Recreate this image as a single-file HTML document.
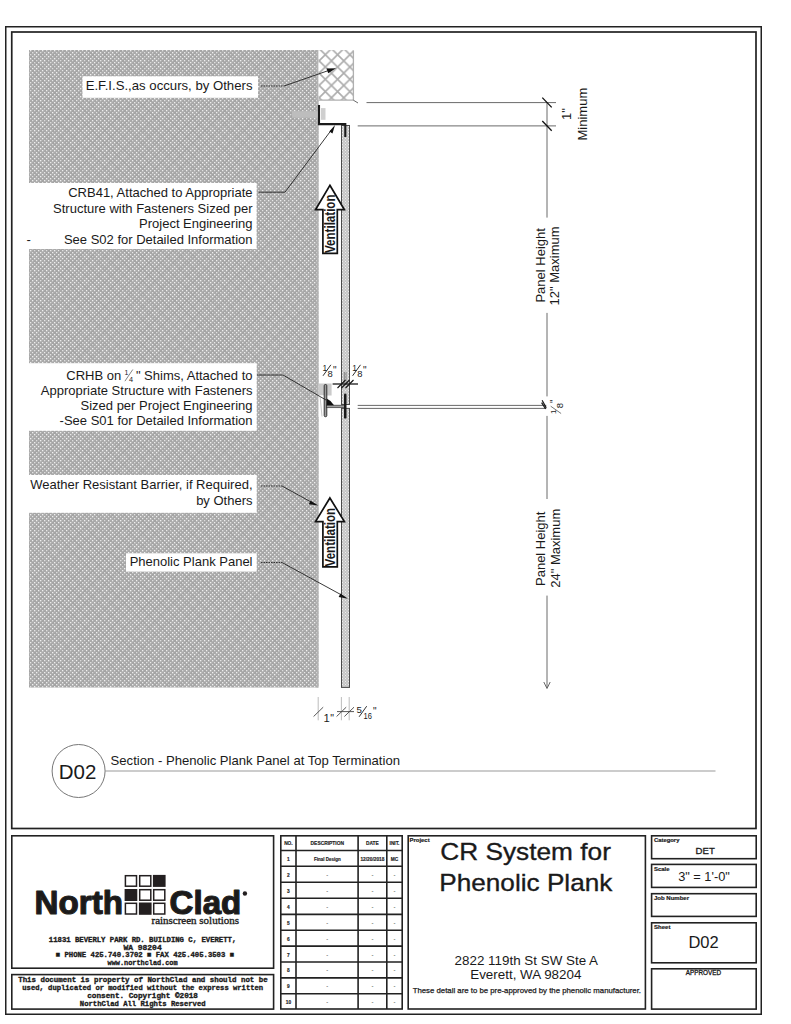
<!DOCTYPE html>
<html><head><meta charset="utf-8"><title>D02 Section - Phenolic Plank Panel at Top Termination</title>
<style>
html,body{margin:0;padding:0;background:#fff;width:791px;height:1024px;overflow:hidden}
svg{display:block}
text{font-family:"Liberation Sans",sans-serif;fill:#1a1a1a}
.m text{font-family:"Liberation Mono",monospace;font-weight:bold}
</style></head><body>
<svg width="791" height="1024" viewBox="0 0 791 1024">
<defs>
<pattern id="dots" x="0" y="0" width="4" height="4" patternUnits="userSpaceOnUse">
<rect width="4" height="4" fill="#ababab"/>
<rect x="0" y="0" width="1.3" height="1.3" fill="#f0f0f0"/>
<rect x="2" y="2" width="1.3" height="1.3" fill="#f0f0f0"/>
</pattern>
<pattern id="xh" x="319.15" y="48.55" width="12.3" height="12.3" patternUnits="userSpaceOnUse">
<path d="M0 0L12.3 12.3M12.3 0L0 12.3" stroke="#acacac" stroke-width="1.6"/>
</pattern>
<pattern id="moire" x="23" y="48.55" width="12.6" height="12.6" patternUnits="userSpaceOnUse">
<path d="M0 0L12.6 12.6M12.6 0L0 12.6" stroke="#8a8a8a" stroke-opacity="0.22" stroke-width="2"/>
</pattern>
<pattern id="pan" x="0" y="0" width="3" height="3" patternUnits="userSpaceOnUse">
<rect width="3" height="3" fill="#c4c4c4"/>
<rect x="0" y="0" width="1" height="1" fill="#eee"/>
<rect x="1.5" y="1.5" width="1" height="1" fill="#eee"/>
</pattern>
</defs>

<!-- frames -->
<rect x="5.75" y="26.75" width="755.5" height="987.5" fill="none" stroke="#222" stroke-width="1.5"/>
<rect x="11.75" y="32" width="744.25" height="796.5" fill="none" stroke="#222" stroke-width="1.7"/>

<!-- main hatch -->
<rect x="29" y="50" width="289.5" height="637.5" fill="url(#dots)"/>
<rect x="29" y="50" width="289.5" height="637.5" fill="url(#moire)"/>
<rect x="316.6" y="50" width="1.9" height="637.5" fill="#b3b3b3"/>
<!-- EFIS -->
<rect x="318.5" y="50" width="35" height="50" fill="#fff"/>
<rect x="318.5" y="50" width="35" height="50" fill="url(#xh)"/>
<path d="M353.4 50.5V100.2H318.5" fill="none" stroke="#b0b0b0" stroke-width="1.3"/>

<!-- label boxes -->
<g fill="#fff">
<rect x="82.5" y="76.3" width="175.5" height="21.5"/>
<rect x="29" y="183" width="227.6" height="66"/>
<rect x="29" y="363.2" width="227.7" height="67.6"/>
<rect x="29" y="475" width="227.7" height="37.8"/>
<rect x="126" y="553.3" width="130.7" height="18.3"/>
</g>
<g font-size="13" text-anchor="end">
<text x="252.5" y="90.1" textLength="166.8" lengthAdjust="spacingAndGlyphs">E.F.I.S.,as occurs, by Others</text>
<text x="252.5" y="197">CRB41, Attached to Appropriate</text>
<text x="252.5" y="212.5">Structure with Fasteners Sized per</text>
<text x="252.5" y="228">Project Engineering</text>
<text x="252.5" y="243.6">See S02 for Detailed Information</text>
<text x="121.2" y="380.2">CRHB on</text>
<text x="252.5" y="380.2">" Shims, Attached to</text>
<text x="124.6" y="375.1" font-size="7" text-anchor="start">1</text>
<text x="129" y="381.7" font-size="7.3" text-anchor="start">4</text>
<text x="252.5" y="395">Appropriate Structure with Fasteners</text>
<text x="252.5" y="410">Sized per Project Engineering</text>
<text x="252.5" y="425.3">-See S01 for Detailed Information</text>
<text x="252.5" y="489.4">Weather Resistant Barrier, if Required,</text>
<text x="252.5" y="505">by Others</text>
<text x="252.5" y="566.4">Phenolic Plank Panel</text>
</g>
<text x="26.5" y="243.6" font-size="13">-</text>
<path d="M124.9 381.2L132.8 369.5" stroke="#666" stroke-width="0.8"/>

<!-- fastener in wall (light band) -->
<rect x="292" y="111.2" width="26.5" height="6.5" fill="#bdbdbd"/>
<rect x="321" y="108.1" width="4.5" height="11.7" fill="#cfcfcf"/>
<!-- panels -->
<rect x="341.5" y="125.5" width="8" height="279" fill="url(#pan)" stroke="#4a4a4a" stroke-width="1"/>
<rect x="341.5" y="408.4" width="8" height="279" fill="url(#pan)" stroke="#4a4a4a" stroke-width="1"/>
<!-- top bracket CRB41 -->
<path d="M319 105.1V124.1H345.3V137" fill="none" stroke="#1a1a1a" stroke-width="2.1"/>

<!-- CRHB bracket -->
<rect x="318.6" y="383.5" width="13" height="12" fill="#cacaca"/>
<rect x="318.6" y="395.5" width="5.5" height="21.5" fill="#fff"/>
<path d="M320 396L322 416.5" stroke="#bbb" stroke-width="0.8"/>
<rect x="324.2" y="384.5" width="2.6" height="32.2" rx="1.2" fill="#9a9a9a" stroke="#222" stroke-width="0.9"/>
<rect x="326.6" y="405.2" width="19" height="2.5" fill="#a0a0a0" stroke="#333" stroke-width="0.7"/>
<path d="M326.6 398.6Q331 400.5 334 405.2H326.6Z" fill="#111"/>
<rect x="344" y="393.6" width="2.5" height="25" rx="1.2" fill="#1a1a1a"/>

<!-- leaders -->
<g fill="none" stroke="#222" stroke-width="0.9">
<path d="M261 86H284" stroke-dasharray="1.6 0.9" stroke="#333" stroke-width="1.1"/>
<path d="M284 86L330 70"/>
<path d="M258.7 192.2H285L331.5 129.8"/>
<path d="M257 375H283L320.5 396.8L326 400"/>
<path d="M261 486H282" stroke-dasharray="1.6 0.9" stroke="#333" stroke-width="1.1"/>
<path d="M282 486L312 502.5"/>
<path d="M261 562.5H282" stroke-dasharray="1.6 0.9" stroke="#333" stroke-width="1.1"/>
<path d="M282 562.5L342.5 595.5"/>
</g>
<g fill="#111">
<path d="M336 68.2L326.6 68.4L328.2 73.2Z"/>
<path d="M335 125.1L329.3 131.4L332.5 133.6Z"/>
<path d="M318.3 505.6L310.6 500.8L308.8 504.2Z"/>
<path d="M348 598.8L340.5 593.6L338.6 597Z"/>
</g>

<!-- dimension lines right -->
<g stroke="#6a6a6a" stroke-width="1" fill="none">
<path d="M366.5 102.6H556"/>
<path d="M357.7 125.9H556"/>
<path d="M547 102V217.6M547 312.9V396.4M547 415.9V499M547 595.6V687"/>
<path d="M357.7 405.4H546.3M357.7 408.4H546.3"/>
<path d="M353.4 100.2L358 103"/>
</g>
<path d="M543.8 682L547 688.5L550.2 682" fill="none" stroke="#555" stroke-width="0.9"/>
<g stroke="#111" stroke-width="1.3">
<path d="M542.3 97.6L551.7 107.4M542.3 121L551.7 130.8"/>
</g>
<g font-size="13">
<text transform="translate(570.5,120) rotate(-90)">1"</text>
<text transform="translate(587.3,140.5) rotate(-90)">Minimum</text>
<text transform="translate(544.7,302.6) rotate(-90)">Panel Height</text>
<text transform="translate(559,305.5) rotate(-90)">12" Maximum</text>
<text transform="translate(544.7,586) rotate(-90)">Panel Height</text>
<text transform="translate(559.5,587.8) rotate(-90)">24" Maximum</text>
</g>

<!-- CRHB small dims -->
<path d="M332.6 384H358" stroke="#2a2a2a" stroke-width="1.4"/>
<path d="M344.3 372V384M346 372V384" stroke="#555" stroke-width="0.6"/>
<g stroke="#111" stroke-width="1.1">
<path d="M337.5 388L345.5 380M341.5 388L349.5 380M345.5 388L353.5 380"/>
</g>
<g font-size="8.4">
<text x="322.5" y="370.5">1</text><text x="327.4" y="377.3" font-size="9.4">8</text><text x="333" y="373.8" font-size="10">"</text>
<text x="352.3" y="370.5">1</text><text x="357.3" y="377.3" font-size="9.4">8</text><text x="362.9" y="373.8" font-size="10">"</text>
</g>
<path d="M323 375.8L330.9 364.8M352.6 375.8L360.5 364.8" stroke="#1a1a1a" stroke-width="0.9"/>
<text transform="translate(555.8,414) rotate(-90)" font-size="8">1</text>
<text transform="translate(562.9,408.3) rotate(-90)" font-size="9.5">8</text>
<text transform="translate(558.4,403) rotate(-90)" font-size="10">"</text>
<path d="M550.7 406.2L561.1 413.5" stroke="#555" stroke-width="0.8"/>
<path d="M542.1 400.2L546.3 407.7M541.6 402.6L545.6 409" stroke="#1a1a1a" stroke-width="1.2"/>

<!-- bottom dims -->
<g stroke="#b5b5b5" stroke-width="0.9">
<path d="M318.2 697V720.3M341.4 697V720.3M349.2 697V720.3"/>
</g>
<g stroke="#444" stroke-width="0.9">
<path d="M313.6 716.5L323.2 707.2M336.6 716.5L346.2 707.2M344.4 716.5L354 707.2M337 711.6H354"/>
</g>
<text x="323.6" y="722.4" font-size="11.3">1</text>
<text x="330.2" y="722.2" font-size="10.5">"</text>
<text x="356.6" y="712.8" font-size="9.6">5</text>
<path d="M359.1 716.8L366.7 706.2" stroke="#1a1a1a" stroke-width="0.9"/>
<text x="363.6" y="718.8" font-size="9.6" textLength="8.4" lengthAdjust="spacingAndGlyphs">16</text>
<text x="373" y="714.6" font-size="10">"</text>

<!-- section title -->
<circle cx="78.6" cy="771" r="26.5" fill="#fff" stroke="#777" stroke-width="1"/>
<text x="58.8" y="778.6" font-size="20.4" textLength="37.6" lengthAdjust="spacingAndGlyphs">D02</text>
<path d="M105.1 771H715.5" stroke="#999" stroke-width="1.1"/>
<text x="110.6" y="765" font-size="13" textLength="289.4" lengthAdjust="spacingAndGlyphs">Section - Phenolic Plank Panel at Top Termination</text>

<!-- TITLE BLOCK -->
<g fill="none" stroke="#222" stroke-width="1.6">
<rect x="11.8" y="835.8" width="261.8" height="132.4"/>
<rect x="11.8" y="974.6" width="261.8" height="34.5"/>
<rect x="280.8" y="835.8" width="121.4" height="173.2"/>
<rect x="408.2" y="835.8" width="237.2" height="173.2"/>
<rect x="651.6" y="835.8" width="104.6" height="22.9"/>
<rect x="651.6" y="864.4" width="104.6" height="23"/>
<rect x="651.6" y="893.7" width="104.6" height="22.7"/>
<rect x="651.6" y="922.8" width="104.6" height="40"/>
<rect x="651.6" y="968.8" width="104.6" height="40.3"/>
<path d="M296 835.8V1009M358.1 835.8V1009M386.8 835.8V1009"/>
<path d="M280.8 850.5H402.2M280.8 866.3H402.2M280.8 882.2H402.2M280.8 898.3H402.2M280.8 914.4H402.2M280.8 930.2H402.2M280.8 946.1H402.2M280.8 962H402.2M280.8 977.9H402.2M280.8 993.8H402.2"/>
</g>

<!-- logo -->
<g font-weight="bold" font-size="32.4" fill="#231f20" stroke="#231f20" stroke-width="1.2" stroke-linejoin="round">
<text x="34.6" y="913.9" textLength="88.4" lengthAdjust="spacingAndGlyphs">North</text>
<text x="169.6" y="913.9" textLength="71.6" lengthAdjust="spacingAndGlyphs">Clad</text>
</g>
<circle cx="244.9" cy="893.5" r="2.2" fill="#231f20"/>
<g fill="none" stroke="#231f20" stroke-width="1.5">
<rect x="125.4" y="875.7" width="11.1" height="10.5"/>
<rect x="139.7" y="875.7" width="11.1" height="10.5"/>
<rect x="139.7" y="889.7" width="11.1" height="10.5"/>
<rect x="153.7" y="889.7" width="11.1" height="10.5"/>
<rect x="125.4" y="903.3" width="11.1" height="10.7"/>
<rect x="153.7" y="903.3" width="11.1" height="10.7"/>
</g>
<g fill="#231f20">
<rect x="152.9" y="874.9" width="12.7" height="12"/>
<rect x="124.6" y="889" width="12.7" height="12"/>
<rect x="138.9" y="902.5" width="12.7" height="12.3"/>
</g>
<text x="151.5" y="924" font-family="Liberation Serif" font-size="11" fill="#231f20" stroke="#231f20" stroke-width="0.35" textLength="87.5" lengthAdjust="spacingAndGlyphs" style="font-family:'Liberation Serif',serif">rainscreen solutions</text>

<g class="m" font-size="7.6" fill="#1a1a1a" stroke="#1a1a1a" stroke-width="0.35">
<text x="48.8" y="941.8" textLength="187.5" lengthAdjust="spacingAndGlyphs">11831 BEVERLY PARK RD. BUILDING C, EVERETT,</text>
<text x="123.4" y="949.5" textLength="38.3" lengthAdjust="spacingAndGlyphs">WA 98204</text>
<text x="55.8" y="957.1" textLength="178.2" lengthAdjust="spacingAndGlyphs">■ PHONE 425.740.3702 ■ FAX 425.405.3503 ■</text>
<text x="107.6" y="964.8" textLength="70" lengthAdjust="spacingAndGlyphs">www.northclad.com</text>
<text x="18.2" y="982.2" textLength="249.5" lengthAdjust="spacingAndGlyphs">This document is property of NorthClad and should not be</text>
<text x="22.3" y="990.1" textLength="240.8" lengthAdjust="spacingAndGlyphs">used, duplicated or modified without the express written</text>
<text x="87.2" y="998.3" textLength="110.8" lengthAdjust="spacingAndGlyphs">consent.  Copyright ©2018</text>
<text x="79.8" y="1005.7" textLength="125.8" lengthAdjust="spacingAndGlyphs">NorthClad All Rights Reserved</text>
</g>

<!-- revision table text -->
<g font-size="4.8" font-weight="bold" text-anchor="middle" fill="#222" stroke="#222" stroke-width="0.15">
<text x="288.4" y="844.8">NO.</text>
<text x="327.3" y="844.8" textLength="33.4" lengthAdjust="spacingAndGlyphs">DESCRIPTION</text>
<text x="372.4" y="844.8">DATE</text>
<text x="394.5" y="844.8">INIT.</text>
<text x="288.4" y="860.8">1</text>
<text x="327.3" y="860.8" textLength="26.8" lengthAdjust="spacingAndGlyphs">Final Design</text>
<text x="372.4" y="860.8" textLength="24" lengthAdjust="spacingAndGlyphs">12/20/2018</text>
<text x="394.5" y="860.8">MC</text>
<text x="288.4" y="876.8">2</text><text x="288.4" y="892.8">3</text><text x="288.4" y="908.8">4</text><text x="288.4" y="924.8">5</text><text x="288.4" y="940.6">6</text><text x="288.4" y="956.5">7</text><text x="288.4" y="972.4">8</text><text x="288.4" y="988.3">9</text><text x="288.4" y="1004.1">10</text>
</g>
<g font-size="6" text-anchor="middle" fill="#333">
<text x="327.3" y="876.8">-</text><text x="372.4" y="876.8">-</text><text x="394.5" y="876.8">-</text>
<text x="327.3" y="892.8">-</text><text x="372.4" y="892.8">-</text><text x="394.5" y="892.8">-</text>
<text x="327.3" y="908.8">-</text><text x="372.4" y="908.8">-</text><text x="394.5" y="908.8">-</text>
<text x="327.3" y="924.8">-</text><text x="372.4" y="924.8">-</text><text x="394.5" y="924.8">-</text>
<text x="327.3" y="940.6">-</text><text x="372.4" y="940.6">-</text><text x="394.5" y="940.6">-</text>
<text x="327.3" y="956.5">-</text><text x="372.4" y="956.5">-</text><text x="394.5" y="956.5">-</text>
<text x="327.3" y="972.4">-</text><text x="372.4" y="972.4">-</text><text x="394.5" y="972.4">-</text>
<text x="327.3" y="988.3">-</text><text x="372.4" y="988.3">-</text><text x="394.5" y="988.3">-</text>
<text x="327.3" y="1004.1">-</text><text x="372.4" y="1004.1">-</text><text x="394.5" y="1004.1">-</text>
</g>

<!-- project box -->
<text x="409.6" y="842.2" font-size="6" font-weight="bold" stroke="#1a1a1a" stroke-width="0.2" textLength="20" lengthAdjust="spacingAndGlyphs">Project</text>
<g font-size="24.5" fill="#1a1a1a" stroke="#1a1a1a" stroke-width="0.35">
<text x="440.2" y="860.2" textLength="170.7" lengthAdjust="spacingAndGlyphs">CR System for</text>
<text x="439.3" y="891.3" textLength="173" lengthAdjust="spacingAndGlyphs">Phenolic Plank</text>
</g>
<g font-size="13.4" text-anchor="middle">
<text x="526.3" y="964.8">2822 119th St SW Ste A</text>
<text x="525.8" y="978.7">Everett, WA 98204</text>
</g>
<text x="412.7" y="992.9" font-size="8" stroke="#1a1a1a" stroke-width="0.25" textLength="228.3" lengthAdjust="spacingAndGlyphs">These detail are to be pre-approved  by the phenolic manufacturer.</text>

<!-- right column -->
<g font-size="6" font-weight="bold" stroke="#1a1a1a" stroke-width="0.2">
<text x="654" y="841.9" textLength="25.4" lengthAdjust="spacingAndGlyphs">Category</text>
<text x="654" y="870.7" textLength="15.6" lengthAdjust="spacingAndGlyphs">Scale</text>
<text x="654" y="899.8" textLength="35" lengthAdjust="spacingAndGlyphs">Job Number</text>
<text x="654" y="929.3" textLength="16.4" lengthAdjust="spacingAndGlyphs">Sheet</text>
</g>
<text x="703.4" y="975.3" font-size="6.5" text-anchor="middle" stroke="#1a1a1a" stroke-width="0.3" textLength="35.3" lengthAdjust="spacingAndGlyphs">APPROVED</text>
<text x="705.2" y="853.8" font-size="9.6" text-anchor="middle" stroke="#1a1a1a" stroke-width="0.3">DET</text>
<text x="704" y="880.9" font-size="12.8" text-anchor="middle">3" = 1'-0"</text>
<text x="703.6" y="948.4" font-size="16.5" text-anchor="middle">D02</text>

<!-- ventilation arrows -->
<g fill="#fff" stroke="#111" stroke-width="1.7" stroke-linejoin="miter">
<path d="M329.9 185.3L344.4 209.7H337.3V253.4H322.9V209.7H315.5Z"/>
<path d="M329.9 498L344.4 521.6H337.3V566.8H322.9V521.6H315.5Z"/>
</g>
<g font-size="14" font-weight="bold">
<text transform="translate(335,253) rotate(-90)" textLength="58.5" lengthAdjust="spacingAndGlyphs">Ventilation</text>
<text transform="translate(335,566.4) rotate(-90)" textLength="58.5" lengthAdjust="spacingAndGlyphs">Ventilation</text>
</g>

</svg>
</body></html>
